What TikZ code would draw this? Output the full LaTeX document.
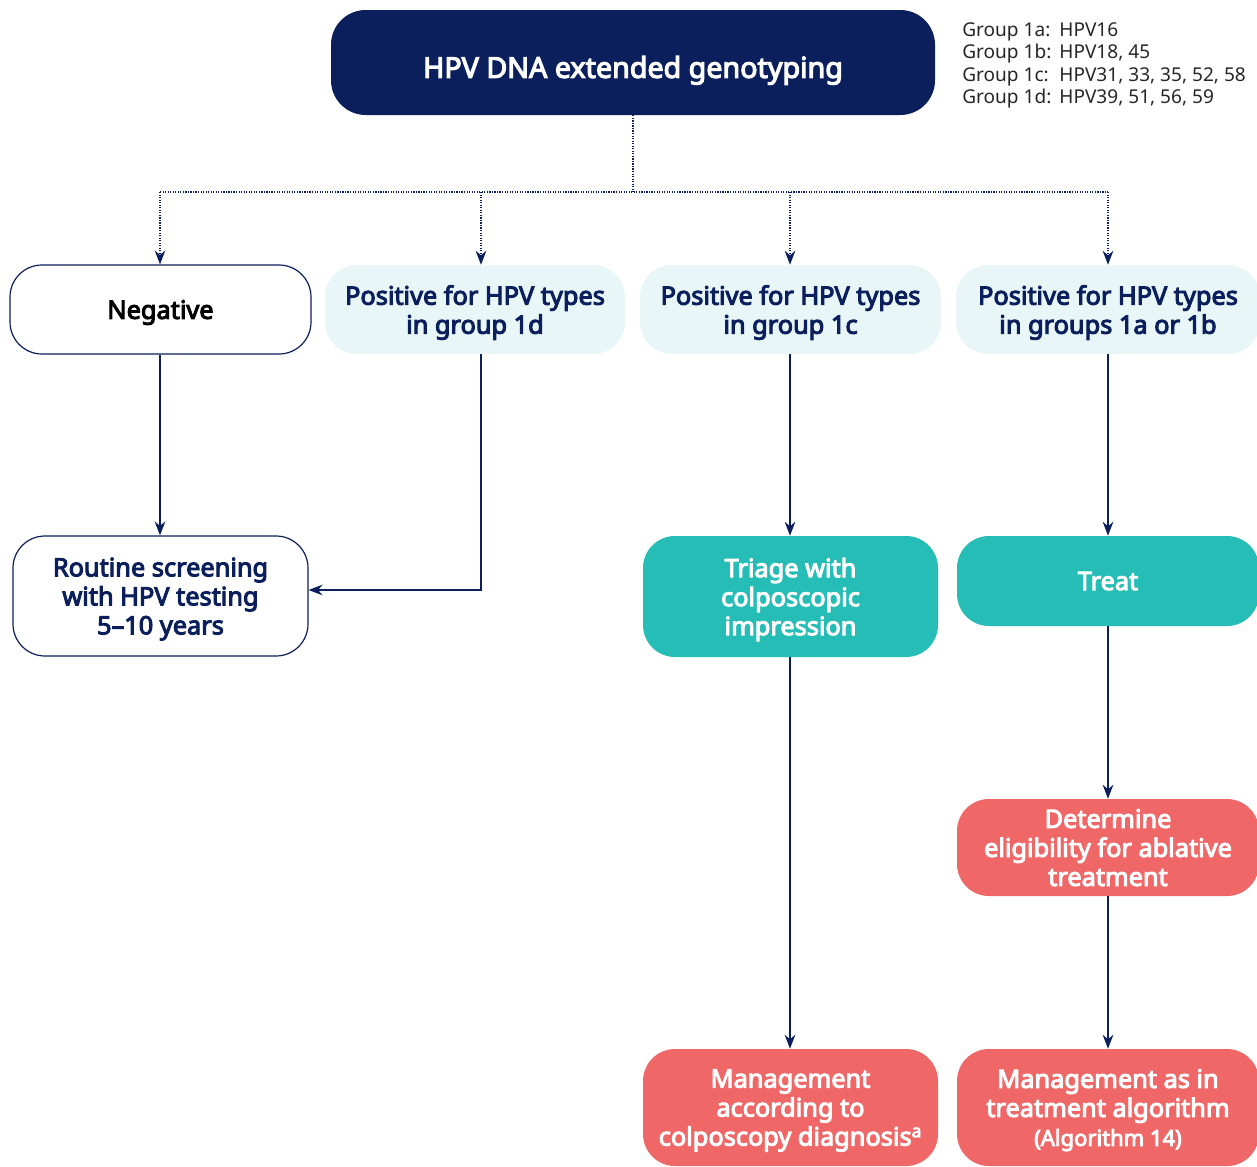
\documentclass[tikz,border=0pt]{standalone}
\usepackage{fontspec}
\setmainfont{Noto Sans}[BoldFont={Noto Sans}, BoldFeatures={FakeBold=4}]
\usetikzlibrary{arrows.meta}
\definecolor{navy}{HTML}{0A1F5C}
\definecolor{paleblue}{HTML}{E8F6F8}
\definecolor{teal}{HTML}{27BDB7}
\definecolor{salmon}{HTML}{F06767}
\begin{document}
\begin{tikzpicture}[x=0.75pt,y=-0.75pt,
  box/.style={rectangle, rounded corners=24pt, align=center, font=\bfseries\fontsize{19}{21.75}\selectfont, inner sep=0pt, text depth=0pt},
  outlined/.style={box, draw=navy, line width=0.9pt, fill=white},
  palebox/.style={box, fill=paleblue, text=navy},
  tealbox/.style={box, fill=teal, text=white},
  redbox/.style={box, fill=salmon, text=white},
  tip/.tip={Stealth[length=10.5pt,width=8pt]},
  link/.style={draw=navy, line width=0.9pt, -tip},
  dotlink/.style={draw=navy, line width=0.9pt, densely dotted},
]
\useasboundingbox (0,0) rectangle (1257,1167);

% header
\node[box, fill=navy, text=white, rounded corners=26pt, minimum width=604*0.75pt, minimum height=105*0.75pt,
  text height=23pt, font=\bfseries\fontsize{21.5}{24}\selectfont] (top) at (633,62.5) {HPV DNA extended genotyping};
\node[anchor=north west, inner sep=0pt, text=black!85, font=\fontsize{14.3}{16.9}\selectfont] (legend) at (962,20)
  {\begin{tabular}{@{}l@{\hspace{6pt}}l@{}}
   Group 1a: & HPV16\\
   Group 1b: & HPV18, 45\\
   Group 1c: & HPV31, 33, 35, 52, 58\\
   Group 1d: & HPV39, 51, 56, 59
   \end{tabular}};

% first row
\node[outlined, text=black, minimum width=301*0.75pt, minimum height=89*0.75pt] (neg) at (160.5,309.5) {Negative};
\node[palebox, minimum width=300*0.75pt, minimum height=89*0.75pt] (g1d) at (475,309.5) {Positive for HPV types\\in group 1d};
\node[palebox, minimum width=301*0.75pt, minimum height=89*0.75pt] (g1c) at (790.5,309.5) {Positive for HPV types\\in group 1c};
\node[palebox, minimum width=304*0.75pt, minimum height=89*0.75pt] (g1ab) at (1108,309.5) {Positive for HPV types\\in groups 1a or 1b};

% second row
\node[outlined, text=navy, minimum width=295*0.75pt, minimum height=120*0.75pt] (routine) at (160.5,596) {Routine screening\\with HPV testing\\5–10 years};
\node[tealbox, minimum width=295*0.75pt, minimum height=121*0.75pt] (triage) at (790.5,596.5) {Triage with\\colposcopic\\impression};
\node[tealbox, minimum width=302*0.75pt, minimum height=90*0.75pt] (treat) at (1108,581) {Treat};

% later steps
\node[redbox, minimum width=302*0.75pt, minimum height=97*0.75pt] (elig) at (1108,847.5) {Determine\\eligibility for ablative\\treatment};
\node[redbox, minimum width=295*0.75pt, minimum height=117*0.75pt] (mcolpo) at (790.5,1107.5) {Management\\according to\\colposcopy diagnosis\textsuperscript{a}};
\node[redbox, minimum width=302*0.75pt, minimum height=117*0.75pt] (malgo) at (1108,1107.5) {Management as in\\treatment algorithm\\{\fontsize{16.5}{21.75}\selectfont(Algorithm 14)}};

% dotted split under the header
\coordinate (hub) at (633,192);
\coordinate (sN) at (160,192);
\coordinate (sD) at (481,192);
\coordinate (sC) at (790,192);
\coordinate (sAB) at (1108,192);
\draw[dotlink] (top.south) -- (hub);
\draw[dotlink] (sN) -- (sAB);
\draw[dotlink, -tip] (sN) -- (sN |- neg.north);
\draw[dotlink, -tip] (sD) -- (sD |- g1d.north);
\draw[dotlink, -tip] (sC) -- (sC |- g1c.north);
\draw[dotlink, -tip] (sAB) -- (sAB |- g1ab.north);

% solid connectors
\coordinate (turn) at (481,590);
\draw[link] (neg.south -| sN) -- (routine.north -| sN);
\draw[link] (g1d.south -| sD) -- (turn) -- (turn -| routine.east);
\draw[link] (g1c.south -| sC) -- (triage.north -| sC);
\draw[link] (triage.south -| sC) -- (mcolpo.north -| sC);
\draw[link] (g1ab.south) -- (treat.north);
\draw[link] (treat.south) -- (elig.north);
\draw[link] (elig.south) -- (malgo.north);
\end{tikzpicture}
\end{document}
